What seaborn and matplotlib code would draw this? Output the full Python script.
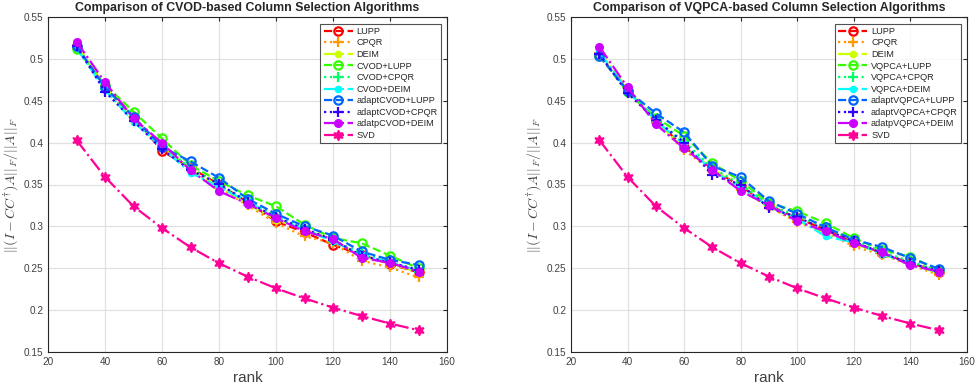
import numpy as np
import pandas as pd
import matplotlib
matplotlib.use("Agg")
import matplotlib.pyplot as plt
from matplotlib.ticker import FuncFormatter, MultipleLocator
import seaborn as sns

ranks = [30, 40, 50, 60, 70, 80, 90, 100, 110, 120, 130, 140, 150]

# Left panel (CVOD)
L_LUPP = [0.514, 0.467, 0.431, 0.390, 0.370, 0.350, 0.329, 0.306, 0.293, 0.278, 0.266, 0.255, 0.245]
L_CPQR = [0.516, 0.466, 0.428, 0.394, 0.367, 0.346, 0.325, 0.304, 0.288, 0.280, 0.259, 0.251, 0.239]
L_DEIM = [0.517, 0.468, 0.425, 0.396, 0.368, 0.348, 0.327, 0.308, 0.296, 0.284, 0.264, 0.256, 0.245]
L_C_LUPP = [0.512, 0.469, 0.437, 0.405, 0.373, 0.354, 0.337, 0.324, 0.302, 0.286, 0.280, 0.265, 0.250]
L_C_CPQR = [0.515, 0.464, 0.428, 0.397, 0.369, 0.350, 0.331, 0.313, 0.297, 0.283, 0.268, 0.258, 0.246]
L_C_DEIM = [0.513, 0.463, 0.425, 0.394, 0.364, 0.347, 0.330, 0.310, 0.296, 0.282, 0.266, 0.257, 0.247]
L_A_LUPP = [0.5155, 0.466, 0.431, 0.395, 0.3775, 0.358, 0.333, 0.315, 0.300, 0.289, 0.270, 0.260, 0.254]
L_A_CPQR = [0.515, 0.461, 0.426, 0.392, 0.367, 0.351, 0.329, 0.311, 0.297, 0.284, 0.265, 0.257, 0.248]
L_A_DEIM = [0.5207, 0.472, 0.429, 0.3995, 0.367, 0.342, 0.327, 0.310, 0.294, 0.285, 0.2625, 0.2565, 0.246]
SVD = [0.403, 0.359, 0.324, 0.298, 0.275, 0.256, 0.240, 0.226, 0.214, 0.203, 0.193, 0.184, 0.176]

# Right panel (VQPCA)
R_LUPP = [0.505, 0.462, 0.426, 0.395, 0.368, 0.348, 0.325, 0.310, 0.296, 0.281, 0.268, 0.256, 0.246]
R_CPQR = [0.507, 0.463, 0.424, 0.391, 0.366, 0.344, 0.323, 0.305, 0.293, 0.276, 0.266, 0.254, 0.242]
R_DEIM = [0.509, 0.464, 0.425, 0.394, 0.369, 0.346, 0.324, 0.307, 0.291, 0.280, 0.267, 0.255, 0.244]
R_V_LUPP = [0.504, 0.460, 0.430, 0.408, 0.3755, 0.354, 0.328, 0.318, 0.304, 0.286, 0.272, 0.2637, 0.248]
R_V_CPQR = [0.506, 0.461, 0.428, 0.401, 0.370, 0.350, 0.326, 0.312, 0.299, 0.283, 0.270, 0.258, 0.247]
R_V_DEIM = [0.508, 0.462, 0.426, 0.398, 0.366, 0.347, 0.324, 0.309, 0.288, 0.281, 0.267, 0.256, 0.245]
R_A_LUPP = [0.5036, 0.462, 0.435, 0.4123, 0.372, 0.3588, 0.330, 0.315, 0.299, 0.284, 0.2753, 0.262, 0.2495]
R_A_CPQR = [0.506, 0.459, 0.427, 0.400, 0.361, 0.350, 0.322, 0.311, 0.296, 0.282, 0.268, 0.256, 0.247]
R_A_DEIM = [0.5147, 0.466, 0.422, 0.393, 0.3675, 0.3421, 0.325, 0.306, 0.294, 0.280, 0.269, 0.2535, 0.246]

left_labels = ["LUPP", "CPQR", "DEIM", "CVOD+LUPP", "CVOD+CPQR", "CVOD+DEIM",
               "adaptCVOD+LUPP", "adaptCVOD+CPQR", "adatpCVOD+DEIM", "SVD"]
right_labels = ["LUPP", "CPQR", "DEIM", "VQPCA+LUPP", "VQPCA+CPQR", "VQPCA+DEIM",
                "adaptVQPCA+LUPP", "adaptVQPCA+CPQR", "adatpVQPCA+DEIM", "SVD"]
left_series = [L_LUPP, L_CPQR, L_DEIM, L_C_LUPP, L_C_CPQR, L_C_DEIM, L_A_LUPP, L_A_CPQR, L_A_DEIM, SVD]
right_series = [R_LUPP, R_CPQR, R_DEIM, R_V_LUPP, R_V_CPQR, R_V_DEIM, R_A_LUPP, R_A_CPQR, R_A_DEIM, SVD]
titles = ["Comparison of CVOD-based Column Selection Algorithms",
          "Comparison of VQPCA-based Column Selection Algorithms"]

sns.set_style("white")
plt.rcParams["font.family"] = ["Liberation Sans", "DejaVu Sans"]
plt.rcParams["mathtext.fontset"] = "cm"

colors = sns.hls_palette(10, h=0, l=0.5, s=1)
hexagram = (6, 1, 0)
styles = [
    dict(ls="--", marker="o", mfc="none", ms=6, mew=1.6),
    dict(ls=":", marker="+", ms=6.5, mew=1.6),
    dict(ls="-.", marker="o", ms=4.5, mew=1.0),
    dict(ls="--", marker="o", mfc="none", ms=6, mew=1.6),
    dict(ls=":", marker="+", ms=6.5, mew=1.6),
    dict(ls="-.", marker="o", ms=4.5, mew=1.0),
    dict(ls="--", marker="o", mfc="none", ms=6, mew=1.6),
    dict(ls=":", marker="+", ms=6.5, mew=1.6),
    dict(ls="-.", marker="o", ms=5.5, mew=1.0),
    dict(ls="-.", marker=hexagram, ms=7.5, mew=1.0),
]

fig = plt.figure(figsize=(9.77, 3.9), dpi=100)
ax_l = fig.add_axes([48 / 977, 1 - 352 / 390, (447 - 48) / 977, 335 / 390])
ax_r = fig.add_axes([571 / 977, 1 - 352 / 390, (967 - 571) / 977, 335 / 390])

for ax, labels, series, title in [(ax_l, left_labels, left_series, titles[0]),
                                   (ax_r, right_labels, right_series, titles[1])]:
    for i, (lab, vals) in enumerate(zip(labels, series)):
        st = dict(styles[i])
        ls = st.pop("ls")
        if "mfc" not in st:
            st["mfc"] = colors[i]
        sns.lineplot(x=ranks, y=vals, ax=ax, color=colors[i], linestyle=ls,
                     lw=1.6, label=lab, mec=colors[i], **st)
    ax.set_xlim(20, 160)
    ax.set_ylim(0.15, 0.55)
    ax.xaxis.set_major_locator(MultipleLocator(20))
    ax.yaxis.set_major_locator(MultipleLocator(0.05))
    ax.yaxis.set_major_formatter(FuncFormatter(lambda v, p: "%g" % round(v, 2)))
    ax.grid(True, color="#e0e0e0", lw=0.9)
    ax.set_axisbelow(True)
    ax.tick_params(direction="in", top=True, right=True, length=3, width=0.8,
                   labelsize=7.2, colors="#262626", labelcolor="#404040", pad=3.5)
    for sp in ax.spines.values():
        sp.set_visible(True)
        sp.set_color("#262626")
        sp.set_linewidth(0.8)
    ax.set_xlabel("rank", fontsize=11, color="#404040", labelpad=3)
    ax.set_ylabel(r"$||(I-CC^{\dagger})A||_F/||A||_F$", fontsize=10, color="#404040")
    bbox_w = ax.get_position().width * 977
    ax.yaxis.set_label_coords(-27 / bbox_w, 0.5)
    ax.set_title(title, fontsize=8.9, fontweight="bold", pad=4)
    leg = ax.legend(loc="upper right", bbox_to_anchor=(0.985, 0.98), fontsize=6.6,
                    frameon=True, fancybox=False, edgecolor="#262626",
                    handlelength=3.2, handletextpad=0.4, labelspacing=0.28,
                    borderpad=0.35, borderaxespad=0.0)
    leg.get_frame().set_linewidth(0.8)

fig.savefig("out.png", dpi=100)
